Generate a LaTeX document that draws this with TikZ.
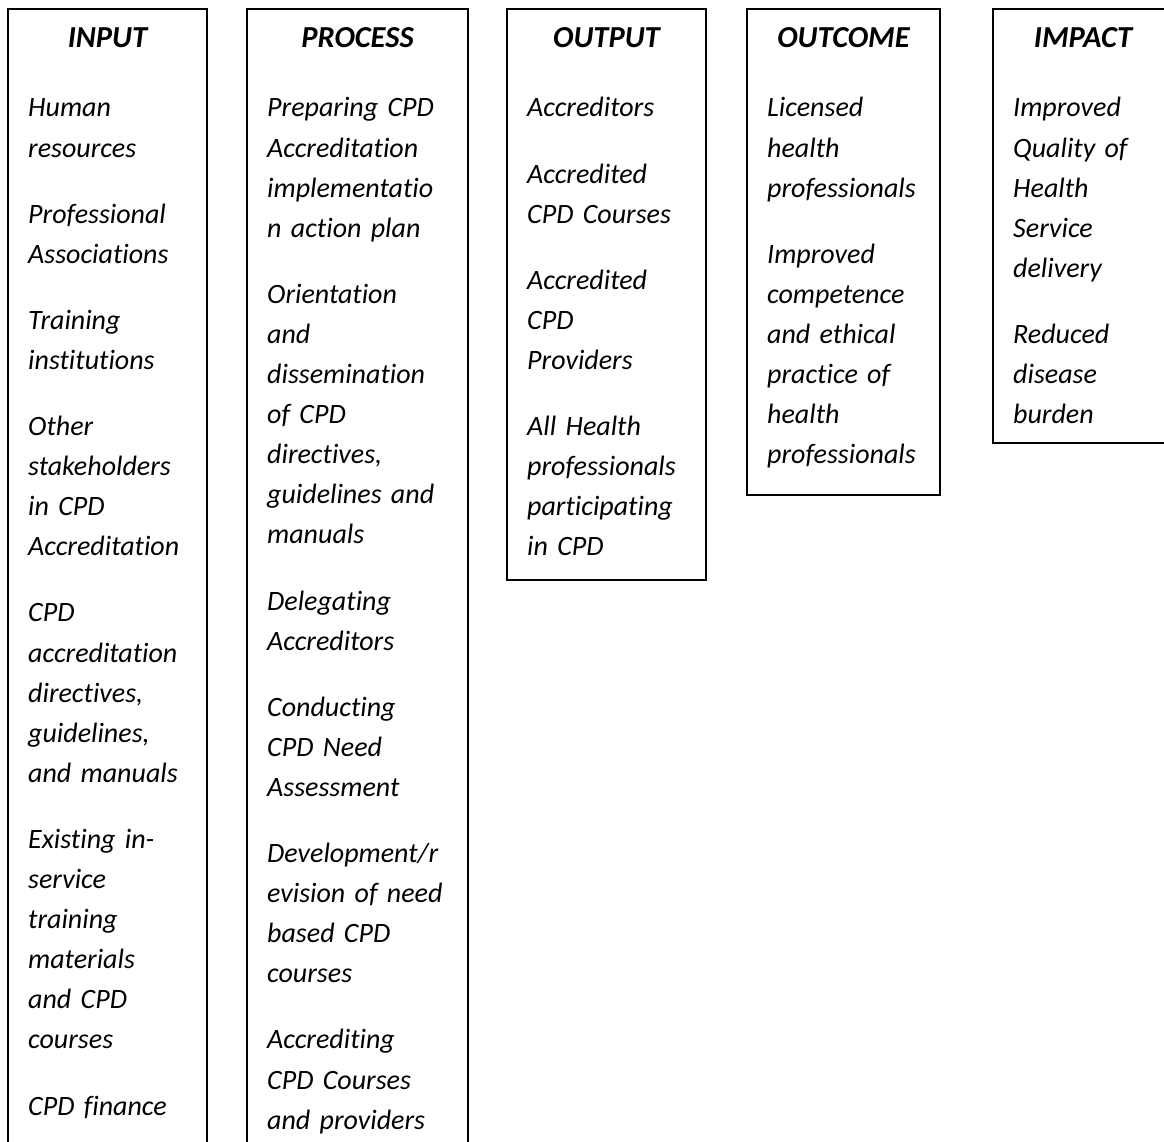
\documentclass[tikz,border=0pt]{standalone}
\usepackage{fontspec}
\setmainfont[Ligatures=NoCommon]{Carlito}

\tikzset{
  frame/.style={line width=1.6pt},
  colhead/.style={anchor=base, inner sep=0pt,
    font=\fontsize{30.5}{36}\selectfont\bfseries\itshape},
  coltext/.style={anchor=base west, inner sep=0pt, align=left, text width=#1,
    font=\fontsize{28}{40.1}\selectfont\itshape}
}

\begin{document}
\begin{tikzpicture}[x=1pt,y=-1pt]
\useasboundingbox (0,0) rectangle (1164,1142);
\clip (0,0) rectangle (1164,1142);

% column frames
\draw [frame] (8,9) rectangle (207,1170);
\draw [frame] (247,9) rectangle (468,1170);
\draw [frame] (507,9) rectangle (706,580);
\draw [frame] (747,9) rectangle (940,495);
\draw [frame] (993,9) rectangle (1190,443);

% headings
\node [colhead] (inhead) at (107.5,48) {INPUT};
\node [colhead] (prhead) at (357.5,48) {PROCESS};
\node [colhead] (outhead) at (606.5,48) {OUTPUT};
\node [colhead] (ochead) at (843.5,48) {OUTCOME};
\node [colhead] (imhead) at (1083,48) {IMPACT};

% column contents
\node [coltext=180pt] (intext) at (28,117) {Human\\ resources\\[26pt]
  Professional\\ Associations\\[26pt]
  Training\\ institutions\\[26pt]
  Other\\ stakeholders\\ in CPD\\ Accreditation\\[26pt]
  CPD\\ accreditation\\ directives,\\ guidelines,\\ and manuals\\[26pt]
  Existing in-\\ service\\ training\\ materials\\ and CPD\\ courses\\[26pt]
  CPD finance};

\node [coltext=200pt] (prtext) at (267,117) {Preparing CPD\\ Accreditation\\ implementatio\\ n action plan\\[26pt]
  Orientation\\ and\\ dissemination\\ of CPD\\ directives,\\ guidelines and\\ manuals\\[26pt]
  Delegating\\ Accreditors\\[26pt]
  Conducting\\ CPD Need\\ Assessment\\[26pt]
  Development/r\\ evision of need\\ based CPD\\ courses\\[26pt]
  Accrediting\\ CPD Courses\\ and providers};

\node [coltext=180pt] (outtext) at (527,117) {Accreditors\\[26pt]
  Accredited\\ CPD Courses\\[26pt]
  Accredited\\ CPD\\ Providers\\[26pt]
  All Health\\ professionals\\ participating\\ in CPD};

\node [coltext=175pt] (octext) at (767,117) {Licensed\\ health\\ professionals\\[26pt]
  Improved\\ competence\\ and ethical\\ practice of\\ health\\ professionals};

\node [coltext=160pt] (imtext) at (1013,117) {Improved\\ Quality of\\ Health\\ Service\\ delivery\\[26pt]
  Reduced\\ disease\\ burden};
\end{tikzpicture}
\end{document}
